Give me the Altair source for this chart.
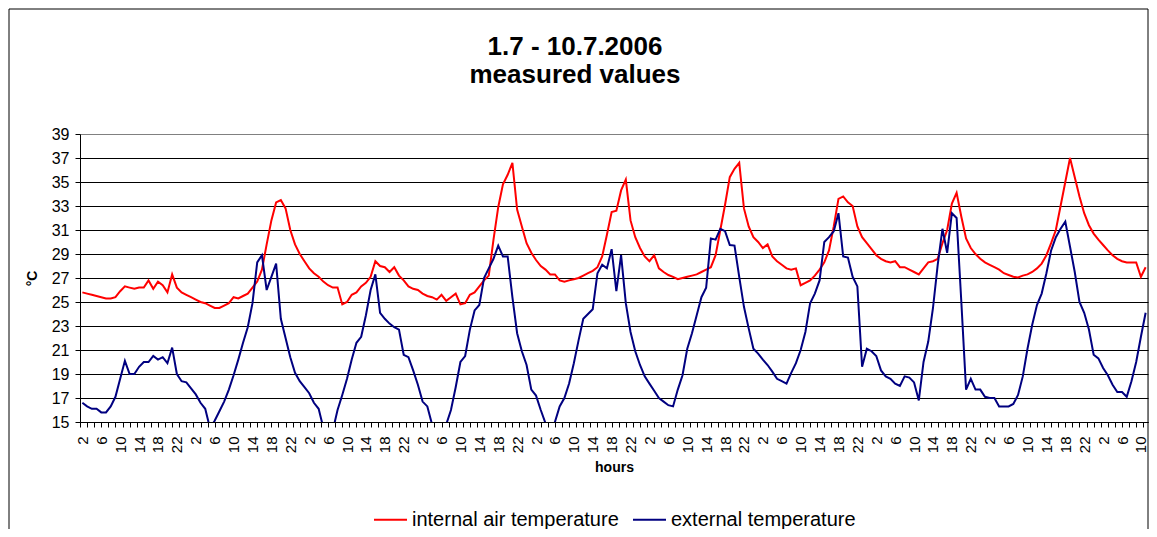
import altair as alt
import pandas as pd

# hours since 1.7.2006 00:00, hourly readings
hours = list(range(2, 228))

internal = [
    25.8, 25.7, 25.6, 25.5, 25.4, 25.3, 25.3, 25.4, 25.9, 26.3, 26.2, 26.1, 26.2, 26.2, 26.8, 26.1,
    26.7, 26.4, 25.8, 27.3, 26.2, 25.8, 25.6, 25.4, 25.2, 25.0, 24.9, 24.7, 24.5, 24.5, 24.7, 24.9,
    25.4, 25.3, 25.5, 25.7, 26.2, 26.7, 27.7, 29.8, 31.8, 33.3, 33.5, 32.8, 31.0, 29.8,
    29.0, 28.4, 27.8, 27.4, 27.1, 26.7, 26.4, 26.2, 26.2, 24.8, 25.0, 25.6, 25.8, 26.3, 26.6, 27.1,
    28.4, 28.0, 27.9, 27.5, 27.9, 27.2, 26.8, 26.3, 26.1, 26.0, 25.7, 25.5, 25.4, 25.2, 25.6, 25.1,
    25.4, 25.7, 24.8, 24.9, 25.6, 25.8, 26.3, 26.8, 27.2, 30.2, 32.9, 34.8, 35.6, 36.6, 32.7, 31.3,
    29.9, 29.1, 28.5, 28.0, 27.7, 27.3, 27.3, 26.8, 26.7, 26.8, 26.9, 27.0, 27.2, 27.4, 27.6, 27.9,
    28.8, 30.6, 32.5, 32.6, 34.3, 35.2, 31.8, 30.4, 29.5, 28.8, 28.4, 28.9, 27.8, 27.5, 27.25, 27.1,
    26.9, 27.0, 27.1, 27.2, 27.3, 27.5, 27.7, 27.9, 28.9, 31.0, 33.1, 35.4, 36.1, 36.6, 32.8, 31.3,
    30.4, 30.0, 29.5, 29.8, 28.8, 28.4, 28.1, 27.8, 27.7, 27.8, 26.4, 26.6, 26.8, 27.2, 27.7, 28.3,
    29.3, 31.3, 33.6, 33.8, 33.3, 33.0, 31.3, 30.4, 29.9, 29.4, 28.9,
    28.6, 28.4, 28.3, 28.4, 27.9, 27.9, 27.7, 27.5, 27.3, 27.8, 28.3, 28.4, 28.6, 29.9, 31.0, 33.2,
    34.1, 32.1, 30.3, 29.5, 29.0, 28.6, 28.3, 28.1, 27.9, 27.7, 27.4, 27.25, 27.1, 27.05, 27.2, 27.3,
    27.5, 27.8, 28.2, 28.9, 29.9, 31.0, 33.0, 35.0, 37.0, 35.4, 33.8, 32.4, 31.4, 30.7, 30.2, 29.75,
    29.3, 28.9, 28.6, 28.4, 28.3, 28.3, 28.3, 27.1, 27.9,
]

external = [
    16.6, 16.3, 16.1, 16.1, 15.8, 15.8, 16.3, 17.1, 18.6, 20.1, 19.0, 19.0, 19.6, 20.0, 20.0, 20.5,
    20.2, 20.4, 19.9, 21.2, 19.0, 18.4, 18.3, 17.8, 17.3, 16.6, 16.1, 14.5, 15.1, 15.9, 16.7, 17.7,
    18.9, 20.2, 21.6, 22.9, 24.9, 28.3, 28.9, 26.0, 27.1, 28.2, 23.6, 22.0, 20.4, 19.1,
    18.4, 17.9, 17.4, 16.6, 16.1, 14.5, 13.9, 14.3, 16.0, 17.25, 18.6, 20.2, 21.6, 22.1, 23.9, 26.0,
    27.3, 24.1, 23.6, 23.2, 22.9, 22.7, 20.6, 20.4, 19.3, 18.1, 16.7, 16.3, 14.8, 14.3, 14.2, 14.8,
    16.0, 17.9, 20.0, 20.5, 22.7, 24.3, 24.75, 27.0, 27.8, 28.6, 29.7, 28.8, 28.8, 25.4, 22.4, 20.9,
    19.75, 17.7, 17.2, 16.0, 14.9, 14.4, 15.0, 16.3, 17.0, 18.2, 19.9, 21.8, 23.6, 24.0, 24.4, 27.4,
    28.1, 27.8, 29.4, 25.9, 28.9, 24.9, 22.5, 20.9, 19.75, 18.8, 18.2, 17.6, 17.0, 16.7, 16.4, 16.3,
    17.7, 18.9, 21.1, 22.4, 23.9, 25.4, 26.2, 30.3, 30.2, 31.1, 30.9, 29.75, 29.7, 27.1, 24.6, 22.8,
    21.1, 20.7, 20.2, 19.75, 19.2, 18.6, 18.4, 18.2, 19.1, 19.9, 21.0, 22.5, 24.9, 25.7, 26.8, 30.0,
    30.4, 30.9, 32.4, 28.8, 28.7, 27.1, 26.3, 19.6, 21.1, 20.9, 20.5,
    19.3, 18.8, 18.6, 18.2, 18.0, 18.8, 18.7, 18.3, 16.8, 20.0, 21.7, 24.5, 28.1, 31.1, 29.1, 32.4,
    32.0, 25.0, 17.7, 18.6, 17.7, 17.7, 17.1, 17.0, 17.0, 16.3, 16.3, 16.3, 16.5, 17.25, 18.8, 21.1,
    23.1, 24.75, 25.7, 27.4, 29.3, 30.4, 31.1, 31.7, 29.6, 27.5, 25.0, 24.1, 22.7, 20.6, 20.3, 19.5,
    18.9, 18.1, 17.5, 17.5, 17.1, 18.4, 20.0, 22.1, 24.1,
]

series_names = ["internal air temperature", "external temperature"]
series_colors = ["#ff0000", "#000080"]
label_hours = list(range(2, 227, 4))
tick_hours = [1.5 + 1.5 * i for i in range(151)]
y_ticks = list(range(15, 40, 2))

df = pd.DataFrame({
    "t": hours + hours,
    "value": internal + external,
    "series": [series_names[0]] * len(internal) + [series_names[1]] * len(external),
})

FONT = "Liberation Sans"
xscale = alt.Scale(domain=[1.5, 227.5], nice=False, zero=False)
yscale = alt.Scale(domain=[15, 39], nice=False, zero=False)

yaxis = alt.Axis(
    values=y_ticks, grid=True, labelOverlap=False,
    gridColor={"condition": {"test": "datum.value == 39", "value": "#808080"}, "value": "black"},
    gridWidth=1, domainColor="black", tickColor="black", tickSize=5,
    labelFont=FONT, labelFontSize=16, labelColor="black", labelPadding=6,
    title="°C", titleFont=FONT, titleFontSize=14, titleFontWeight="bold",
    titleColor="black", titleAngle=-90, titleX=-41, titleY=144)

base = alt.Chart(df)

lines = base.mark_line(clip=True, strokeWidth=2).encode(
    x=alt.X("t:Q", scale=xscale, axis=alt.Axis(
        orient="bottom", values=label_hours, labelExpr="datum.value % 24",
        labelAngle=-90, labelAlign="right", labelBaseline="middle",
        ticks=False, grid=False, domain=True, domainColor="black",
        labelFont=FONT, labelFontSize=15, labelColor="black", labelPadding=14,
        title="hours", titleFont=FONT, titleFontSize=14, titleFontWeight="bold",
        titleColor="black", titlePadding=8, labelFlush=False, labelOverlap=False)),
    y=alt.Y("value:Q", scale=yscale, axis=yaxis),
    color=alt.Color("series:N", scale=alt.Scale(domain=series_names, range=series_colors),
                    legend=alt.Legend(
                        title=None, orient="none", direction="horizontal",
                        legendX=293, legendY=368, symbolType="stroke", symbolSize=1089,
                        symbolStrokeWidth=2, labelFont=FONT, labelFontSize=20, labelLimit=600,
                        labelColor="black", columnPadding=10, labelOffset=4, padding=0)),
)

minor = base.mark_line(strokeOpacity=0).encode(
    x=alt.X("t:Q", scale=xscale, axis=alt.Axis(
        orient="bottom", values=tick_hours, labels=False, ticks=True, tickSize=5,
        tickColor="black", grid=False, domain=False, title=None)),
    y=alt.Y("value:Q", scale=yscale, axis=yaxis),
    detail="series:N",
)

frame = alt.Chart(pd.DataFrame({"frame": [0]})).mark_rect(
    fill=None, stroke="black", strokeWidth=1, clip=False
).encode(
    x=alt.value(-71), x2=alt.value(1068), y=alt.value(-125), y2=alt.value(440)
)

chart = alt.layer(frame, lines, minor).resolve_axis(x="independent").properties(
    width=1068,
    height=288,
    autosize=alt.AutoSizeParams(type="none"),
    padding={"left": 72, "top": 126, "right": 1, "bottom": 107},
    title=alt.TitleParams(
        text=["1.7 - 10.7.2006", "measured values"], font=FONT, fontSize=26,
        fontWeight="bold", color="black", anchor="middle", dx=-39, dy=117.5,
        offset=38, lineHeight=28),
).configure_view(stroke="#808080", strokeWidth=1).configure_axisY(
    labelOverlap=False
).configure(background="white")

chart.save("out.html", embed_options={"renderer": "svg", "actions": False})
